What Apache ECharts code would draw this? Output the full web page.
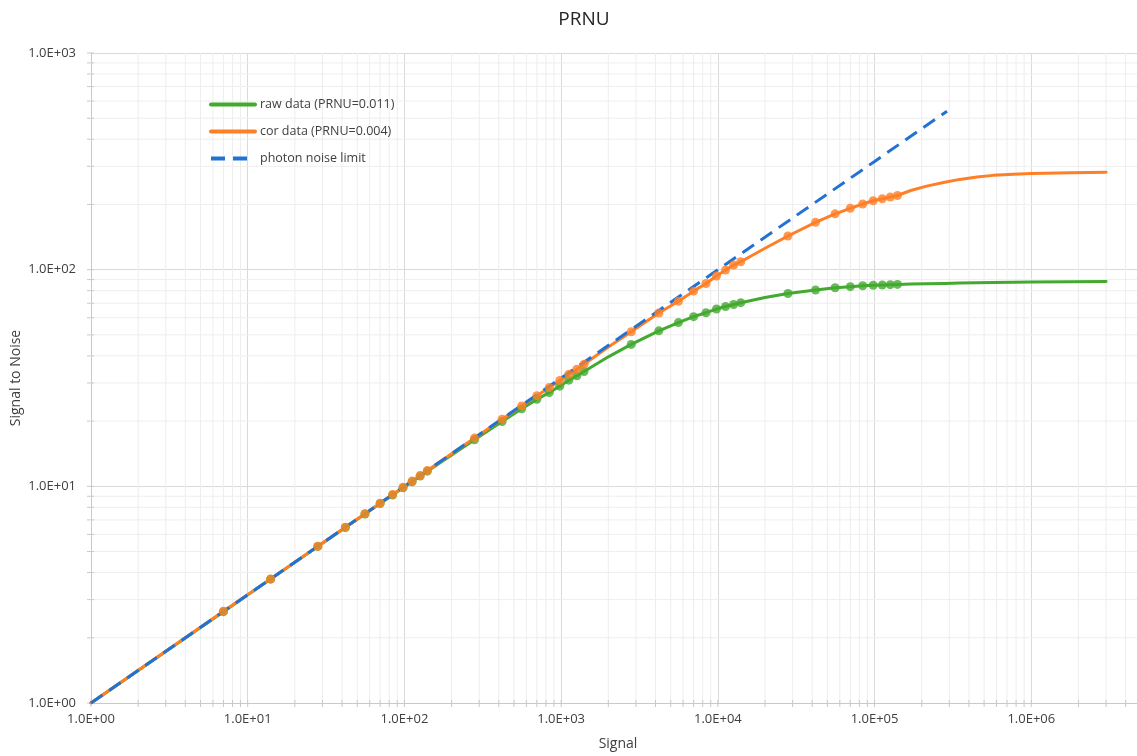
<!DOCTYPE html>
<html><head><meta charset="utf-8">
<script src="https://cdn.jsdelivr.net/npm/echarts@6/dist/echarts.min.js"></script>
<style>html,body{margin:0;padding:0;background:#fff}#c{width:1137px;height:756px}</style>
</head><body><div id="c"></div>
<script>
// ---- data ----
const signal = [7,14,28,42,56,70,84,98,112,126,140,280,420,560,700,840,980,1120,1260,1400,
  2800,4200,5600,7000,8400,9800,11200,12600,14000,28000,42000,56000,70000,84000,98000,112000,126000,140000];
const rawSNR = [2.64,3.73,5.28,6.46,7.45,8.33,9.12,9.85,10.5,11.15,11.75,16.4,19.9,22.8,25.2,27.1,29.0,30.9,32.4,33.9,
  45.2,52.2,57.0,60.7,63.3,65.8,67.6,69.1,70.4,77.6,80.6,82.5,83.5,84.3,84.7,85.0,85.3,85.5];
const corSNR = [2.65,3.74,5.29,6.48,7.48,8.36,9.16,9.89,10.57,11.21,11.82,16.7,20.4,23.5,26.2,28.6,30.8,32.9,34.7,36.6,
  51.7,63.1,71.5,79.6,86.3,93.5,99.6,105.0,108.8,143,165.3,181,192,201,208,212.5,216.5,220];
const startSignal = [1];
const rawStart = [1];
const corStart = [1];
// curve-only points between markers and along the tail
const bridgeSignal = [2000, 20000];
const rawBridge = [39.6, 74.4];
const corBridge = [44.0, 125.5];
const tailSignal = [170000,215000,280000,350000,450000,570000,770000,1000000,1800000,3000000];
const rawTail = [85.8,86.1,86.4,86.7,86.95,87.2,87.45,87.65,88.0,88.3];
const corTail = [232,243,253,261,267.5,272.4,275.6,277.9,280,281.5];
const photonSignal = [1,10,100,1000,10000,100000,290000];
const photonSNR = [1,3.16,10,31.6,100,316,539];
const xDecades = [1,10,100,1000,10000,100000,1000000,10000000];
const yDecades = [1,10,100,1000];
const minorMultipliers = [2,3,4,5,6,7,8,9];
const names = ['raw data (PRNU=0.011)','cor data (PRNU=0.004)','photon noise limit'];

// ---- build ----
const FONT = '"Open Sans", "Noto Sans", sans-serif';
const GREEN = '#43A92F', ORANGE = '#FF7F27', BLUE = '#2272D3';
const AXIS = '#c9c9c9', MAJOR = '#dadada', MINOR = '#eeeeee';

function pairs(xs, ys){ return xs.map((x,i)=>[x, ys[i]]); }
function sorted(a){ return a.sort((p,q)=>p[0]-q[0]); }
const rawLine = sorted(pairs(startSignal, rawStart).concat(pairs(signal, rawSNR), pairs(bridgeSignal, rawBridge), pairs(tailSignal, rawTail)));
const corLine = sorted(pairs(startSignal, corStart).concat(pairs(signal, corSNR), pairs(bridgeSignal, corBridge), pairs(tailSignal, corTail)));

const decor = [];
xDecades.forEach(d=>{
  decor.push([d, 1, 2]);
  if (d < xDecades[xDecades.length-1]) minorMultipliers.forEach(m=>decor.push([d*m, 1, 0]));
});
yDecades.forEach(d=>{
  decor.push([1, d, 3]);
  if (d < yDecades[yDecades.length-1]) minorMultipliers.forEach(m=>decor.push([1, d*m, 1]));
});

function fmt(v){
  const e = Math.round(Math.log10(v));
  return '1.0E' + (e < 0 ? '-' : '+') + String(Math.abs(e)).padStart(2,'0');
}

const chart = echarts.init(document.getElementById('c'), null, {renderer:'canvas'});
chart.setOption({
  animation:false,
  backgroundColor:'#fff',
  textStyle:{fontFamily:FONT},
  grid:{left:91, top:53, height:650, width:1097, containLabel:false, outerBoundsMode:'none'},
  legend:{
    data:names,
    orient:'vertical', left:209, top:98, padding:0,
    itemWidth:44, itemHeight:16, itemGap:14,
    itemStyle:{opacity:0},
    lineStyle:{width:4},
    textStyle:{fontFamily:FONT, fontSize:12.5, color:'#404040'}
  },
  xAxis:{
    type:'log', logBase:10, min:1, max:10000000, splitNumber:7,
    axisLine:{show:true, lineStyle:{color:AXIS, width:1}},
    axisTick:{show:false},
    axisLabel:{formatter:fmt, margin:10, fontFamily:FONT, fontSize:13, color:'#404040'},
    splitLine:{show:true, lineStyle:{color:MAJOR, width:1}}
  },
  yAxis:{
    type:'log', logBase:10, min:1, max:1000, splitNumber:3,
    axisLine:{show:true, lineStyle:{color:AXIS, width:1}},
    axisTick:{show:false},
    axisLabel:{formatter:fmt, margin:15, fontFamily:FONT, fontSize:13, color:'#404040'},
    splitLine:{show:true, lineStyle:{color:MAJOR, width:1}}
  },
  graphic:[
    {type:'text', x:584, y:20, style:{text:'PRNU', font:'19px '+FONT, fill:'#262626', align:'center', verticalAlign:'middle'}},
    {type:'text', x:618, y:744, style:{text:'Signal', font:'14px '+FONT, fill:'#404040', align:'center', verticalAlign:'middle'}},
    {type:'text', x:16, y:378, rotation:Math.PI/2, style:{text:'Signal to Noise', font:'14px '+FONT, fill:'#404040', align:'center', verticalAlign:'middle'}}
  ],
  series:[
    {
      type:'custom', silent:true, z:1, clip:false,
      data:decor, encode:{x:0, y:1},
      renderItem:function(params, api){
        const cs = params.coordSys;
        const kind = api.value(2);
        const children = [];
        if (kind === 0 || kind === 2) {
          const x = api.coord([api.value(0), 1])[0];
          const yb = cs.y + cs.height;
          if (kind === 0) children.push({type:'line', shape:{x1:x, y1:cs.y, x2:x, y2:yb}, style:{stroke:MINOR, lineWidth:1}});
          children.push({type:'line', shape:{x1:x, y1:yb-3, x2:x, y2:yb+4}, style:{stroke:AXIS, lineWidth:1}});
        } else {
          const y = api.coord([1, api.value(1)])[1];
          const xl = cs.x;
          if (kind === 1) children.push({type:'line', shape:{x1:xl, y1:y, x2:cs.x+cs.width, y2:y}, style:{stroke:MINOR, lineWidth:1}});
          children.push({type:'line', shape:{x1:xl-4, y1:y, x2:xl+3, y2:y}, style:{stroke:AXIS, lineWidth:1}});
        }
        return {type:'group', children:children};
      }
    },
    {
      name:names[0], type:'line', data:rawLine, symbol:'none', smooth:false, z:3,
      lineStyle:{color:GREEN, width:3, join:'round', cap:'round'}, itemStyle:{color:GREEN}
    },
    {
      name:names[1], type:'line', data:corLine, symbol:'none', smooth:false, z:4,
      lineStyle:{color:ORANGE, width:3, join:'round', cap:'round'}, itemStyle:{color:ORANGE}
    },
    {
      name:names[2], type:'line', data:pairs(photonSignal, photonSNR), symbol:'none', z:5,
      lineStyle:{color:BLUE, width:3, type:[14,8]}, itemStyle:{color:BLUE}
    },
    {
      type:'scatter', data:pairs(signal, rawSNR), symbol:'circle', symbolSize:9, z:6,
      itemStyle:{color:GREEN}, silent:true
    },
    {
      type:'scatter', data:pairs(signal, corSNR), symbol:'circle', symbolSize:9, z:7,
      itemStyle:{color:ORANGE}, silent:true
    }
  ]
});
</script></body></html>
